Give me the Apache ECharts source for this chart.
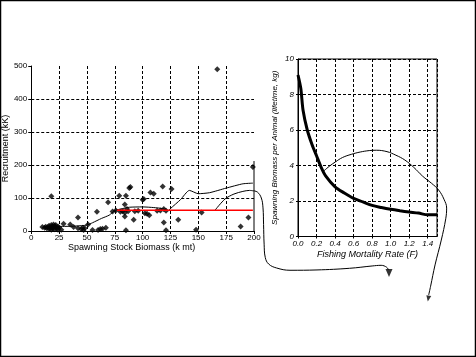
<!DOCTYPE html>
<html>
<head>
<meta charset="utf-8">
<script src="https://cdn.jsdelivr.net/npm/echarts@6/dist/echarts.min.js"></script>
<style>html,body{margin:0;padding:0;background:#fff}#c{width:476px;height:357px}</style>
</head>
<body>
<div id="c"></div>
<script>
// Left chart: stock-recruitment
const ssbTicks = [0, 25, 50, 75, 100, 125, 150, 175, 200];
const recTicks = [0, 100, 200, 300, 400, 500];
const observations = [
  [10,12],[12,10],[13,13],[14,8],[15,12],[16,16],[16,6],[17,10],[18,18],[18,4],[19,13],[19,8],
  [20,20],[20,10],[21,15],[21,5],[22,12],[23,8],[24,14],[24,4],[25,10],[22,18],
  [18,105],[27,4],[29,22],[35,20],[38,12],[42,41],[42,8],[45,5],[46,10],[47,3],[48,8],[51,20],
  [55,3],[59,58],[60,3],[62,6],[64,7],[67,10],[69,87],[73,59],[76,62],[79,107],[80,58],[82,60],
  [84,55],[84,44],[84,80],[85,107],[85,2],[86,67],[87,60],[88,130],[89,133],[92,34],[93,60],
  [96,61],[100,95],[101,97],[102,54],[104,52],[106,48],[107,117],[110,113],[113,61],[116,62],
  [118,135],[119,26],[119,67],[121,2],[121,61],[126,127],[132,34],[148,4],[153,56],[167,490],
  [188,14],[195,41],[199,194]
];
const fitUpper = [
  [11,12],[20,14],[30,14],[40,15],[50,18],[55,25],[63,38],[70,48],[75,62],[82,68],[88,72],
  [100,73],[110,71],[118,68],[123,62],[125,68],[134,95],[142,123],[150,113],[160,116],
  [175,130],[190,143],[199,145]
];
const fitLower = [[165,63],[174,97],[182,112],[190,120],[196,123],[199,122]];
const medianLine = [[77,63],[199,63]];
const edgeLine = [[200,0],[200,212]];
// arrow from the left chart to the right chart (in left-chart units, extended)
const arrowA = [[199,122],[203,118],[206.5,100],[208,70],[208.5,20],[209,-40],[210,-80],[213,-100],
  [220,-112],[232,-119],[256,-118],[285,-113],[305,-106],[313,-104],[318,-110],[319.5,-118]];
const arrowAHead = [[320,-127]];

// Right chart: spawning biomass per recruit
const fTicks = [0, 0.2, 0.4, 0.6, 0.8, 1.0, 1.2, 1.4];
const sbprTicks = [0, 2, 4, 6, 8, 10];
const sbpr = [
  [0,9.1],[0.03,8.35],[0.055,7.1],[0.1,6.0],[0.15,5.2],[0.2,4.55],[0.25,3.9],[0.3,3.4],
  [0.4,2.8],[0.5,2.45],[0.6,2.15],[0.7,1.95],[0.8,1.75],[0.9,1.63],[1.0,1.53],[1.1,1.45],
  [1.2,1.38],[1.3,1.32],[1.4,1.22],[1.5,1.22]
];
const yieldCurve = [
  [0.27,3.6],[0.35,3.95],[0.42,4.2],[0.5,4.45],[0.6,4.63],[0.7,4.76],[0.8,4.84],[0.88,4.86],
  [1.0,4.78],[1.1,4.58],[1.2,4.31],[1.3,3.9],[1.4,3.4],[1.5,3.0],[1.58,2.62],[1.64,2.1],
  [1.67,1.6],[1.66,1.0],[1.61,-0.2],[1.54,-1.6],[1.49,-2.8],[1.468,-3.3]
];
const arrowBHead = [[1.464,-3.5]];

const FONT = 'Liberation Sans, Arial, sans-serif';
const dash = {color:'#000', width:1, type:[3,2]};
const lbl = {color:'#000', fontSize:8, fontFamily:FONT};

// plot geometry
const L = {left:29, top:66, width:225, height:165, xMax:200, yMax:500};
const R = {left:298, top:59, width:139, height:177.5, xMax:1.5, yMax:10};
// extended (hidden) coordinate systems with identical scales, for the annotation arrows
const LX = {xMax:360, yMin:-200};
const RX = {xMax:2, yMin:-5};

const chart = echarts.init(document.getElementById('c'), null, {renderer:'canvas'});
chart.setOption({
  animation:false,
  backgroundColor:'#fff',
  graphic:[{type:'rect', shape:{x:0.5,y:0.5,width:475,height:356}, style:{fill:'none',stroke:'#000',lineWidth:1.5}, z:100}],
  grid:[
    {left:L.left, top:L.top, width:L.width, height:L.height, show:false},
    {left:R.left, top:R.top, width:R.width, height:R.height, show:true, borderColor:'#000', borderWidth:1},
    {left:L.left, top:L.top, width:L.width*LX.xMax/L.xMax, height:L.height*(L.yMax-LX.yMin)/L.yMax, show:false},
    {left:R.left, top:R.top, width:R.width*RX.xMax/R.xMax, height:R.height*(R.yMax-RX.yMin)/R.yMax, show:false}
  ],
  xAxis:[
    {gridIndex:0, type:'value', min:0, max:L.xMax, interval:25,
     name:'Spawning Stock Biomass (k mt)', nameLocation:'middle', nameGap:10,
     nameTextStyle:{color:'#000', fontSize:9, fontFamily:FONT, padding:[0,22,0,0]},
     axisLine:{lineStyle:{color:'#000',width:1}},
     axisTick:{length:3, lineStyle:{color:'#000'}},
     axisLabel:Object.assign({margin:3}, lbl),
     splitLine:{show:true, showMinLine:false, showMaxLine:false, lineStyle:dash}},
    {gridIndex:1, type:'value', min:0, max:R.xMax, interval:0.2,
     name:'Fishing Mortality Rate (F)', nameLocation:'middle', nameGap:13,
     nameTextStyle:{color:'#000', fontSize:9, fontFamily:FONT, fontStyle:'italic'},
     axisLine:{lineStyle:{color:'#000',width:1}},
     axisTick:{length:2, lineStyle:{color:'#000'}},
     axisLabel:Object.assign({margin:3, fontStyle:'italic', showMaxLabel:false, formatter:v=>v.toFixed(1)}, lbl),
     splitLine:{show:true, lineStyle:dash}},
    {gridIndex:2, type:'value', min:0, max:LX.xMax, show:false, splitLine:{show:false}},
    {gridIndex:3, type:'value', min:0, max:RX.xMax, show:false, splitLine:{show:false}}
  ],
  yAxis:[
    {gridIndex:0, type:'value', min:0, max:L.yMax, interval:100,
     name:'Recruitment (kK)', nameLocation:'middle', nameGap:19,
     nameTextStyle:{color:'#000', fontSize:9, fontFamily:FONT},
     axisLine:{show:true, lineStyle:{color:'#000',width:1}},
     axisTick:{show:true, length:3, lineStyle:{color:'#000'}},
     axisLabel:Object.assign({margin:4}, lbl),
     splitLine:{show:true, showMinLine:false, showMaxLine:false, lineStyle:dash}},
    {gridIndex:1, type:'value', min:0, max:R.yMax, interval:2,
     name:'Spawning Biomass per Animal (lifetime, kg)', nameLocation:'middle', nameGap:19,
     nameTextStyle:{color:'#000', fontSize:8, fontFamily:FONT, fontStyle:'italic'},
     axisLine:{show:true, lineStyle:{color:'#000',width:1}},
     axisTick:{show:true, length:2, lineStyle:{color:'#000'}},
     axisLabel:Object.assign({margin:4, fontStyle:'italic'}, lbl),
     splitLine:{show:true, lineStyle:dash}},
    {gridIndex:2, type:'value', min:LX.yMin, max:L.yMax, show:false, splitLine:{show:false}},
    {gridIndex:3, type:'value', min:RX.yMin, max:R.yMax, show:false, splitLine:{show:false}}
  ],
  series:[
    {type:'line', xAxisIndex:0, yAxisIndex:0, data:fitUpper, showSymbol:false, smooth:0.2,
     lineStyle:{color:'#000', width:1}, z:3},
    {type:'line', xAxisIndex:0, yAxisIndex:0, data:fitLower, showSymbol:false, smooth:0.3,
     lineStyle:{color:'#000', width:1}, z:3},
    {type:'line', xAxisIndex:0, yAxisIndex:0, data:edgeLine, showSymbol:false,
     lineStyle:{color:'#000', width:1}, z:3},
    {type:'line', xAxisIndex:2, yAxisIndex:2, data:arrowA, showSymbol:false, smooth:0.4,
     lineStyle:{color:'#000', width:1}, z:3},
    {type:'scatter', xAxisIndex:2, yAxisIndex:2, data:arrowAHead, symbol:'triangle', symbolRotate:180,
     symbolSize:[7,8], itemStyle:{color:'#000'}, z:4},
    {type:'scatter', xAxisIndex:0, yAxisIndex:0, data:observations, symbol:'diamond', symbolSize:6,
     clip:false, itemStyle:{color:'#000'}, z:5},
    {type:'line', xAxisIndex:0, yAxisIndex:0, data:medianLine, showSymbol:false,
     lineStyle:{color:'#ff0000', width:1.5}, z:6},
    {type:'line', xAxisIndex:1, yAxisIndex:1, data:sbpr, showSymbol:false, smooth:0.3,
     lineStyle:{color:'#000', width:3}, z:4},
    {type:'line', xAxisIndex:3, yAxisIndex:3, data:yieldCurve, showSymbol:false, smooth:0.4,
     lineStyle:{color:'#000', width:1}, z:3},
    {type:'scatter', xAxisIndex:3, yAxisIndex:3, data:arrowBHead, symbol:'triangle', symbolRotate:170,
     symbolSize:[5,6], itemStyle:{color:'#000'}, z:4}
  ]
});
</script>
</body>
</html>
